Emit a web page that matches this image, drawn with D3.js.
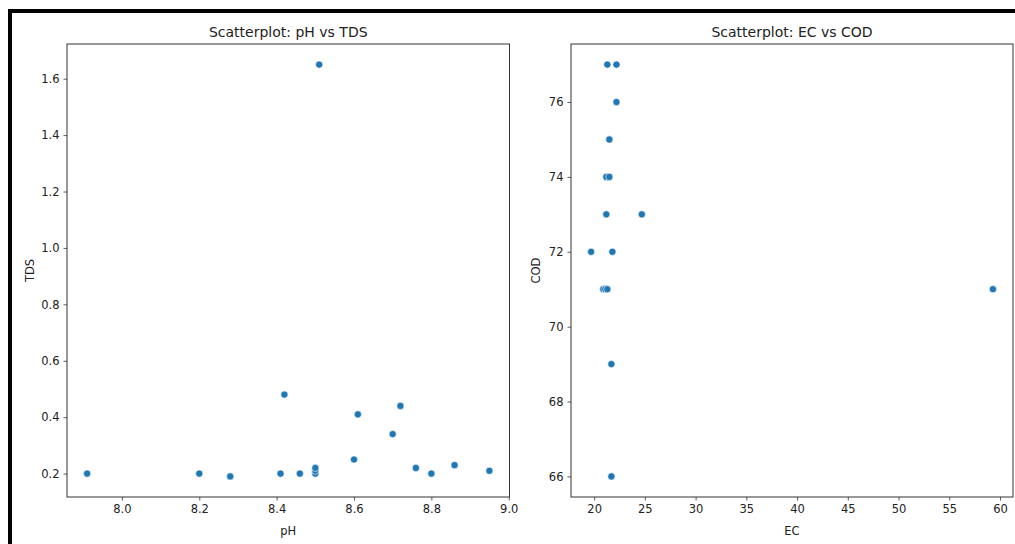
<!DOCTYPE html>
<html>
<head>
<meta charset="utf-8">
<script src="https://cdn.jsdelivr.net/npm/d3@7"></script>
<style>
  body { margin: 0; background: #fff; }
  text { font-family: "DejaVu Sans", sans-serif; fill: #222; }
</style>
</head>
<body>
<script>
// pH vs TDS
var phValues  = [7.91, 8.20, 8.28, 8.41, 8.42, 8.46, 8.50, 8.50, 8.50, 8.51, 8.60, 8.61, 8.70, 8.72, 8.76, 8.80, 8.86, 8.95];
var tdsValues = [0.20, 0.20, 0.19, 0.20, 0.48, 0.20, 0.20, 0.21, 0.22, 1.65, 0.25, 0.41, 0.34, 0.44, 0.22, 0.20, 0.23, 0.21];

// EC vs COD
var ecValues  = [21.3, 22.2, 22.2, 21.5, 21.2, 21.5, 21.2, 24.7, 19.7, 21.8, 20.9, 21.1, 21.3, 21.7, 21.7, 59.3];
var codValues = [77,   77,   76,   75,   74,   74,   73,   73,   72,   72,   71,   71,   71,   69,   66,   71];

var phTicks  = [8.0, 8.2, 8.4, 8.6, 8.8, 9.0];
var tdsTicks = [0.2, 0.4, 0.6, 0.8, 1.0, 1.2, 1.4, 1.6];
var ecTicks  = [20, 25, 30, 35, 40, 45, 50, 55, 60];
var codTicks = [66, 68, 70, 72, 74, 76];

var width = 1015, height = 544;
var plotTop = 44, plotBottom = 497;

var svg = d3.select("body").append("svg")
    .attr("width", width)
    .attr("height", height);

// figure frame (cropped screenshot border)
svg.append("rect")
    .attr("x", 10).attr("y", 11)
    .attr("width", 1100).attr("height", 700)
    .attr("fill", "none")
    .attr("stroke", "#000")
    .attr("stroke-width", 4);

// matplotlib style 5% margins
var padded = function(vals) {
    var ext = d3.extent(vals), pad = (ext[1] - ext[0]) * 0.05;
    return [ext[0] - pad, ext[1] + pad];
};

var drawPanel = function(opt) {
    var x = d3.scaleLinear().domain(padded(opt.xs)).range([opt.left, opt.right]);
    var y = d3.scaleLinear().domain(padded(opt.ys)).range([plotBottom, plotTop]);
    var g = svg.append("g");

    var xAxis = g.append("g")
        .attr("transform", "translate(0," + plotBottom + ")")
        .call(d3.axisBottom(x).tickValues(opt.xTicks).tickFormat(opt.xFmt).tickSize(3.5).tickPadding(4));
    var yAxis = g.append("g")
        .attr("transform", "translate(" + opt.left + ",0)")
        .call(d3.axisLeft(y).tickValues(opt.yTicks).tickFormat(opt.yFmt).tickSize(3.5).tickPadding(4));

    [xAxis, yAxis].forEach(function(a) {
        a.select(".domain").remove();
        a.selectAll(".tick line").attr("stroke", "#333").attr("stroke-width", 0.8);
        a.selectAll(".tick text").attr("font-size", 11.5).attr("fill", "#222")
            .style("font-family", "DejaVu Sans, sans-serif");
    });

    // all four spines
    g.append("rect")
        .attr("x", opt.left).attr("y", plotTop)
        .attr("width", opt.right - opt.left).attr("height", plotBottom - plotTop)
        .attr("fill", "none").attr("stroke", "#333").attr("stroke-width", 1);

    var pts = opt.xs.map(function(v, i) { return { x: v, y: opt.ys[i] }; });
    g.selectAll("circle.pt").data(pts).enter().append("circle")
        .attr("class", "pt")
        .attr("cx", function(d) { return x(d.x); })
        .attr("cy", function(d) { return y(d.y); })
        .attr("r", 3.6)
        .attr("fill", "#1f77b4")
        .attr("stroke", "#fff")
        .attr("stroke-width", 0.6);

    var cx = (opt.left + opt.right) / 2;
    g.append("text")
        .attr("x", cx).attr("y", 37)
        .attr("text-anchor", "middle")
        .attr("font-size", 14)
        .text(opt.title);
    g.append("text")
        .attr("x", cx).attr("y", 535)
        .attr("text-anchor", "middle")
        .attr("font-size", 11.5)
        .text(opt.xLabel);
    g.append("text")
        .attr("transform", "translate(" + opt.yLabelX + "," + (plotTop + plotBottom) / 2 + ") rotate(-90)")
        .attr("text-anchor", "middle")
        .attr("font-size", 11.5)
        .text(opt.yLabel);
};

drawPanel({
    xs: phValues, ys: tdsValues,
    xTicks: phTicks, yTicks: tdsTicks,
    xFmt: d3.format(".1f"), yFmt: d3.format(".1f"),
    left: 67, right: 509.5, yLabelX: 34,
    title: "Scatterplot: pH vs TDS", xLabel: "pH", yLabel: "TDS"
});

drawPanel({
    xs: ecValues, ys: codValues,
    xTicks: ecTicks, yTicks: codTicks,
    xFmt: d3.format("d"), yFmt: d3.format("d"),
    left: 571, right: 1013, yLabelX: 540,
    title: "Scatterplot: EC vs COD", xLabel: "EC", yLabel: "COD"
});
</script>
</body>
</html>
